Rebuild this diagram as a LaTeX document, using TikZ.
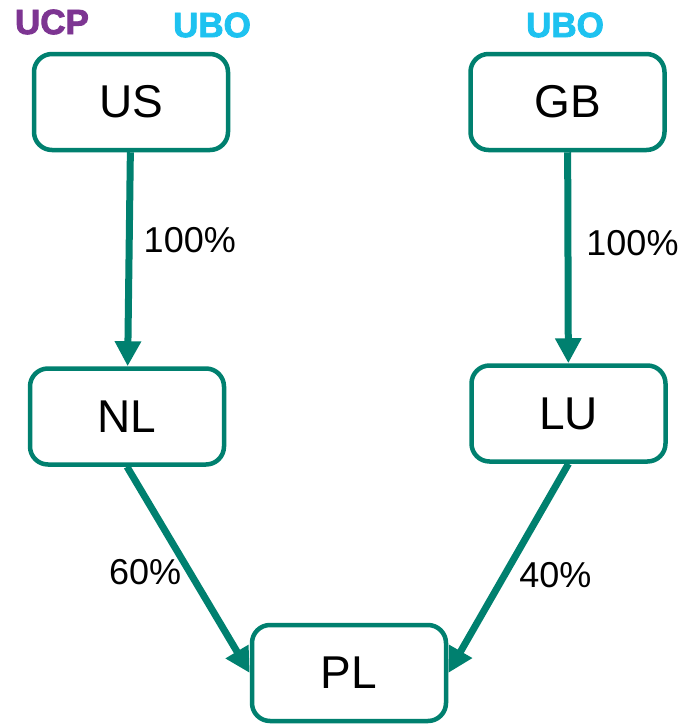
\documentclass[tikz,border=0pt]{standalone}
\usepackage{fontspec}
\setmainfont{Liberation Sans}
\newfontfamily\ownerfont[FakeBold=2.5]{Liberation Sans}
\usetikzlibrary{positioning, arrows.meta}
\definecolor{linkteal}{HTML}{00806F}
\definecolor{ucppurple}{HTML}{7D3592}
\definecolor{ubocyan}{HTML}{1EC2F0}

\begin{document}
\begin{tikzpicture}[x=1pt, y=-1pt, every node/.style={align=center},
    country/.style={draw=linkteal, line width=4.5pt, rounded corners=18pt, minimum width=194pt, minimum height=96pt, fill=white, font=\fontsize{46}{55}\selectfont},
    share/.style={font=\fontsize{36}{43}\selectfont, inner sep=0pt},
    owner/.style={font=\ownerfont\fontsize{35}{42}\selectfont\bfseries, inner sep=0pt},
    link/.style={draw=linkteal, line width=7pt, -{Triangle[length=25pt, width=25pt]}}]
    \useasboundingbox (0,0) rectangle (682,724);
    \node[country] (US) at (131,102) {US};
    \node[country, right=238pt of US] (GB) {GB};
    \node[country, below=214pt of US, xshift=-4pt] (NL) {NL};
    \node[country, below=211pt of GB, xshift=1pt] (LU) {LU};
    \node[country] (PL) at (349,673) {PL};
    % ownership labels
    \node[owner, text=ucppurple] (ucp) at (52,22) {UCP};
    \node[owner, text=ubocyan] (uboUS) at (212,25) {UBO};
    \node[owner, text=ubocyan] (uboGB) at (565,25) {UBO};
    % shares
    \draw[link] (US) -- (NL) node[share, pos=0.41, anchor=west, xshift=11pt] {100\%};
    \draw[link] (GB) -- (LU) node[share, pos=0.43, anchor=west, xshift=15pt] {100\%};
    \draw[link] (NL.south) -- (PL.west) node[share, pos=0.51, anchor=east, xshift=-5pt] {60\%};
    \draw[link] (LU.south) -- (PL.east) node[share, pos=0.53, anchor=west, xshift=11pt] {40\%};
\end{tikzpicture}
\end{document}
